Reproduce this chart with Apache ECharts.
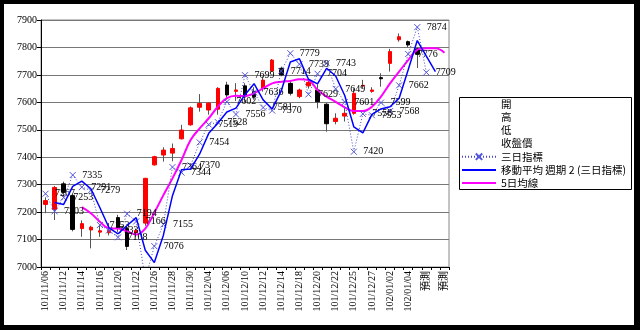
<!DOCTYPE html>
<html>
<head>
<meta charset="utf-8">
<script src="https://cdn.jsdelivr.net/npm/echarts@6/dist/echarts.min.js"></script>
<style>
  html, body { margin: 0; padding: 0; background: #000; }
  #paper { position: absolute; left: 4px; top: 4px; width: 630px; height: 321px; background: #fff; }
  #chart { position: absolute; left: 0; top: 0; width: 640px; height: 330px; }
</style>
</head>
<body>
<div id="paper"></div>
<div id="chart"></div>
<script>
// Trading days (every other one is labelled on the axis), then forecast slots
const categories = [
  '101/11/06', '101/11/09', '101/11/12', '101/11/13', '101/11/14', '101/11/15',
  '101/11/16', '101/11/19', '101/11/20', '101/11/21', '101/11/22', '101/11/23',
  '101/11/26', '101/11/27', '101/11/28', '101/11/29', '101/11/30', '101/12/03',
  '101/12/04', '101/12/05', '101/12/06', '101/12/07', '101/12/10', '101/12/11',
  '101/12/12', '101/12/13', '101/12/14', '101/12/17', '101/12/18', '101/12/19',
  '101/12/20', '101/12/21', '101/12/22', '101/12/24', '101/12/25', '101/12/26',
  '101/12/27', '101/12/28', '102/01/02', '102/01/03', '102/01/04', '102/01/07',
  '預測', '預測', '預測'
];

// Daily OHLC
const openPx = [
  7228, 7210, 7303, 7260, 7140, 7135, 7127, 7125, 7180, 7140, 7125, 7160,
  7372, 7408, 7415, 7467, 7518, 7582, 7572, 7575, 7663, 7640, 7660, 7640,
  7651, 7714, 7724, 7669, 7621, 7660, 7645, 7593, 7530, 7550, 7560, 7660,
  7640, 7690, 7742, 7828, 7821, 7795, null, null, null
];
const highPx = [
  7254, 7295, 7311, 7265, 7170, 7150, 7150, 7160, 7190, 7148, 7140, 7325,
  7405, 7436, 7450, 7518, 7585, 7630, 7600, 7655, 7675, 7670, 7670, 7655,
  7694, 7758, 7730, 7675, 7650, 7680, 7665, 7597, 7560, 7580, 7651, 7682,
  7655, 7706, 7795, 7851, 7825, 7800, null, null, null
];
const lowPx = [
  7196, 7171, 7256, 7130, 7110, 7068, 7110, 7115, 7128, 7062, 7110, 7150,
  7370, 7384, 7385, 7465, 7515, 7566, 7555, 7555, 7610, 7605, 7600, 7610,
  7639, 7712, 7695, 7625, 7615, 7650, 7578, 7493, 7520, 7530, 7555, 7650,
  7635, 7657, 7712, 7821, 7800, 7725, null, null, null
];
const closePx = [
  7242, 7290, 7272, 7137, 7158, 7145, 7132, 7133, 7142, 7075, 7133, 7323,
  7402, 7426, 7432, 7499, 7580, 7596, 7597, 7651, 7627, 7645, 7622, 7620,
  7681, 7754, 7700, 7633, 7645, 7673, 7602, 7522, 7542, 7560, 7633, 7662,
  7645, 7686, 7785, 7839, 7809, 7775, null, null, null
];

// 三日指標 (index 11 falls below the axis floor)
const threeDay = [
  7267, 7203, 7253, 7335, 7291, 7279, 7153, 7133, 7108, 7194, 7166, 6955,
  7076, 7155, 7364, 7344, 7370, 7454, 7519, 7528, 7602, 7556, 7699, 7636,
  7581, 7570, 7714, 7779, 7739, 7629, 7704, 7743, 7649, 7601, 7420, 7558,
  7553, 7599, 7568, 7662, 7776, 7874, 7709, null, null
];

// 移動平均 週期 2 (三日指標)
const ma2 = [
  null, 7235, 7228, 7294, 7313, 7285, 7216, 7143, 7121, 7151, 7180, 7061,
  7016, 7116, 7260, 7354, 7357, 7412, 7487, 7524, 7565, 7579, 7628, 7668,
  7609, 7576, 7642, 7747, 7759, 7684, 7667, 7724, 7696, 7625, 7511, 7489,
  7556, 7576, 7584, 7615, 7719, 7825, 7768, 7712, null
];

// 5日均線
const ma5 = [
  null, null, null, null, 7218, 7196, 7165, 7141, 7140, 7130, 7118, 7140,
  7198, 7262, 7323, 7390, 7463, 7505, 7542, 7584, 7615, 7624, 7623, 7633,
  7651, 7669, 7675, 7678, 7684, 7681, 7645, 7621, 7602, 7582, 7568, 7568,
  7584, 7621, 7669, 7712, 7754, 7791, 7797, 7797, 7781
];

const axisFont = "'Liberation Serif', 'Noto Sans CJK TC', serif";

// Grey high-low wicks drawn under the red / black bodies
const wickData = categories.map((c, i) =>
  openPx[i] == null ? '-' : [openPx[i], closePx[i], lowPx[i], highPx[i]]);
const bodyData = categories.map((c, i) =>
  openPx[i] == null ? '-' : [openPx[i], closePx[i],
    Math.min(openPx[i], closePx[i]), Math.max(openPx[i], closePx[i])]);

const hidden = { color: 'rgba(0,0,0,0)', borderColor: 'rgba(0,0,0,0)' };
const chart = echarts.init(document.getElementById('chart'), null, { renderer: 'canvas' });

chart.setOption({
  backgroundColor: 'transparent',
  animation: false,
  grid: {
    left: 41, right: 191, top: 20, bottom: 63,
    show: true, borderColor: '#888', borderWidth: 1, backgroundColor: '#fff'
  },
  graphic: [{
    type: 'rect', z: 0,
    shape: { x: 459.5, y: 97.5, width: 172, height: 92 },
    style: { fill: '#fff', stroke: '#000', lineWidth: 1 }
  }],
  legend: {
    orient: 'vertical', left: 461, top: 99, padding: 0,
    itemWidth: 34, itemHeight: 8, itemGap: 2,
    textStyle: {
      fontSize: 10.5, lineHeight: 11, color: '#000',
      fontFamily: "'Noto Sans CJK TC', sans-serif"
    },
    data: [
      { name: '開', itemStyle: hidden, lineStyle: hidden, icon: 'rect' },
      { name: '高', itemStyle: hidden, lineStyle: hidden, icon: 'rect' },
      { name: '低', itemStyle: hidden, lineStyle: hidden, icon: 'rect' },
      { name: '收盤價', itemStyle: hidden, lineStyle: hidden, icon: 'rect' },
      { name: '三日指標' },
      { name: '移動平均 週期 2 (三日指標)', itemStyle: { opacity: 0 } },
      { name: '5日均線', itemStyle: { opacity: 0 } }
    ]
  },
  xAxis: {
    type: 'category', data: categories, boundaryGap: true,
    axisLine: { lineStyle: { color: '#000', width: 1 } },
    axisTick: { show: true, interval: 0, length: 3, lineStyle: { color: '#000' } },
    axisLabel: {
      interval: 1, rotate: 90, margin: 4, fontSize: 10, color: '#000',
      fontFamily: axisFont
    },
    splitLine: { show: false }
  },
  yAxis: {
    type: 'value', min: 7000, max: 7900, interval: 100,
    axisLine: { show: true, lineStyle: { color: '#000' } },
    axisTick: { show: true, length: 4, lineStyle: { color: '#000' } },
    axisLabel: {
      fontSize: 10, margin: 4, color: '#000', fontFamily: axisFont,
      formatter: v => String(v)
    },
    splitLine: { lineStyle: { color: '#777', width: 1 } }
  },
  series: [
    { name: '開', type: 'line', data: [] },
    { name: '高', type: 'line', data: [] },
    { name: '低', type: 'line', data: [] },
    { name: '收盤價', type: 'line', data: [] },
    {
      name: 'wick', type: 'candlestick', data: wickData, barWidth: 1,
      itemStyle: { color: '#555', color0: '#555', borderColor: '#555', borderColor0: '#555', borderWidth: 1 },
      z: 2
    },
    {
      name: 'body', type: 'candlestick', data: bodyData, barWidth: 4,
      itemStyle: { color: '#ff0000', color0: '#000', borderColor: '#ff0000', borderColor0: '#000', borderWidth: 1 },
      z: 3
    },
    {
      name: '5日均線', type: 'line', data: ma5, smooth: 0.4,
      symbol: 'none', connectNulls: false,
      lineStyle: { color: '#ff00ff', width: 2 },
      itemStyle: { color: '#ff00ff' },
      z: 4
    },
    {
      name: '三日指標', type: 'line', data: threeDay,
      symbol: 'path://M0,0L10,10M10,0L0,10', symbolSize: 6, showAllSymbol: true,
      clip: true,
      lineStyle: { color: '#4444cc', width: 1, type: [1, 2] },
      itemStyle: { color: 'none', borderColor: '#5555dd', borderWidth: 1 },
      label: {
        show: true, position: 'right', distance: 4, fontSize: 10, color: '#000',
        fontFamily: axisFont,
        formatter: p => (p.value >= 7000 ? String(p.value) : '')
      },
      z: 5
    },
    {
      name: '移動平均 週期 2 (三日指標)', type: 'line', data: ma2,
      symbol: 'none', clip: true,
      lineStyle: { color: '#0000ff', width: 1.5 },
      itemStyle: { color: '#0000ff' },
      z: 6
    }
  ]
});
</script>
</body>
</html>
